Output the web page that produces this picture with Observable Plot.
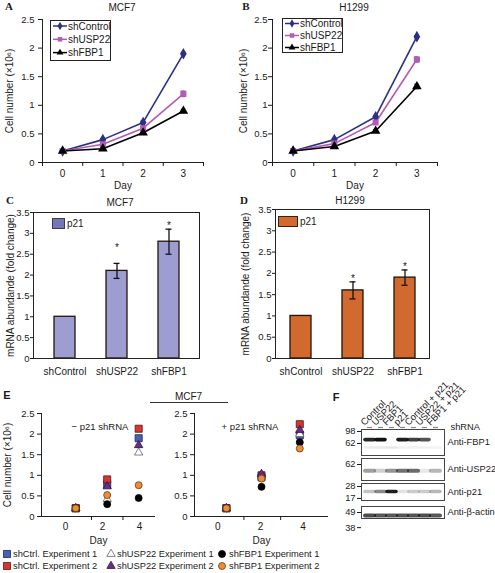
<!DOCTYPE html>
<html><head><meta charset="utf-8">
<script src="https://cdn.jsdelivr.net/npm/d3@7"></script>
<script src="https://cdn.jsdelivr.net/npm/@observablehq/plot@0.6"></script>
<style>
html,body{margin:0;padding:0;background:#fff}
#fig{position:relative;width:495px;height:573px;overflow:hidden;background:#fff}
</style></head>
<body><div id="fig"></div>
<script>
// ---------------- DATA ----------------
// Panels A & B: cell growth (x10^6 cells)
const days = [0, 1, 2, 3];
const dayBoundaries = [-0.5, 0.5, 1.5, 2.5, 3.5];
const shSeries = ["shControl", "shUSP22", "shFBP1"];
const growthTicks = [0, 0.5, 1, 1.5, 2, 2.5];

const mcf7Control = [0.20, 0.40, 0.70, 1.90];
const mcf7USP22   = [0.20, 0.32, 0.60, 1.20];
const mcf7FBP1    = [0.20, 0.24, 0.52, 0.90];
const mcf7ControlErr = [0.01, 0.02, 0.03, 0.03];
const mcf7USP22Err   = [0.02, 0.03, 0.03, 0.05];
const mcf7FBP1Err    = [0.01, 0.02, 0.02, 0.03];

const h1299Control = [0.20, 0.40, 0.80, 2.20];
const h1299USP22   = [0.20, 0.33, 0.70, 1.80];
const h1299FBP1    = [0.20, 0.28, 0.55, 1.33];
const h1299ControlErr = [0.01, 0.02, 0.02, 0.02];
const h1299USP22Err   = [0.02, 0.02, 0.03, 0.05];
const h1299FBP1Err    = [0.01, 0.02, 0.02, 0.04];

// Panels C & D: p21 mRNA fold change
const qpcrGroups = ["shControl", "shUSP22", "shFBP1"];
const foldTicks = [0, 0.5, 1, 1.5, 2, 2.5, 3, 3.5];
const mcf7P21    = [1.0, 2.1, 2.8];
const mcf7P21Err = [0, 0.18, 0.30];
const h1299P21    = [1.0, 1.6, 1.9];
const h1299P21Err = [0, 0.20, 0.18];

// Panel E: MCF7 growth -/+ p21 shRNA
const eSeries = ["shCtrl. Experiment 1", "shCtrl. Experiment 2", "shUSP22 Experiment 1",
                 "shUSP22 Experiment 2", "shFBP1 Experiment 1", "shFBP1 Experiment 2"];
const eDayTicks = [0, 2, 4];
const eMinusDays = [0.55, 2.25, 3.95];
const ePlusDays  = [0.40, 2.05, 3.85];
const eMinusCtrl1 = [0.20, 0.78, 1.90];
const eMinusCtrl2 = [0.20, 0.90, 2.13];
const eMinusUSP1  = [0.20, 0.42, 1.55];
const eMinusUSP2  = [0.20, 0.73, 1.73];
const eMinusFBP1  = [0.20, 0.30, 0.45];
const eMinusFBP2  = [0.20, 0.52, 0.76];
const ePlusCtrl1 = [0.20, 0.95, 1.97];
const ePlusCtrl2 = [0.20, 1.00, 2.24];
const ePlusUSP1  = [0.20, 0.97, 2.00];
const ePlusUSP2  = [0.20, 1.03, 2.10];
const ePlusFBP1  = [0.20, 0.72, 1.80];
const ePlusFBP2  = [0.20, 0.92, 1.65];

// Panel F: western blot (band intensity 0..1 per lane, band MW in kDa)
const lanes = ["Control", "USP22", "FBP1", "p21", "Control + p21", "USP22 + p21", "FBP1 + p21"];
const fbp1Intensity   = [0.90, 1.00, 0.00, 0.95, 0.80, 0.72, 0.00];
const fbp1Faint       = [0.07, 0.08, 0.10, 0.06, 0.06, 0.06, 0.05];
const usp22Intensity  = [0.40, 0.20, 0.45, 0.60, 0.62, 0.10, 0.30];
const p21Intensity    = [0.25, 0.50, 0.95, 0.12, 0.22, 0.22, 0.30];
const actinIntensity  = [0.75, 0.70, 0.70, 0.72, 0.72, 0.74, 0.70];
const fbp1MW = 72, fbp1FaintMW = 53, usp22MW = 49, p21MW = 22.7, actinMW = 46.6;
const fbp1Markers = [98, 62], usp22Markers = [62], p21Markers = [28, 17], actinMarkers = [49, 38];

// ---------------- STYLE ----------------
const FONT = '"Liberation Sans", Arial, Helvetica, sans-serif';
const SERIF = '"Liberation Serif", "Times New Roman", serif';
const growthColors = ["#2c2f86", "#b25db3", "#000000"];
const growthSymbols = ["diamond", "square", "triangle"];
const eSymbols = ["square", "square", "triangle", "triangle", "circle", "circle"];
const eRadii   = [4, 4, 3.1, 3.1, 3.5, 3.5];
const eFills   = ["#4a60b4", "#d8352c", "#ffffff", "#6a2d8c", "#000000", "#ec8d38"];
const eStrokes = ["#1e2450", "#4a1a14", "#666666", "#2e1540", "#000000", "#6a3a12"];
const mcf7StarDy  = [0, -16, -3];
const h1299StarDy = [0, -3, -3];
const cellLabel = "Cell number (×10⁶)";
const mrnaLabel = "mRNA abundande (fold change)";

const fig = document.getElementById("fig");
const fmt = d => String(d);
const baseStyle = {fontFamily: FONT, fontSize: "10px", background: "transparent", overflow: "visible", color: "#1a1a1a"};

function place(node, left, top) {
  node.style.position = "absolute";
  node.style.left = left + "px";
  node.style.top = top + "px";
  fig.appendChild(node);
  return node;
}
// rotated y-axis title drawn inside a plot, offset from the frame's left edge
const yTitle = (text, dx) => Plot.text([text], {frameAnchor: "left", rotate: -90, dx, textAnchor: "middle", fontSize: 10});

// ---------------- A & B ----------------
function growthTable(vals, errs) {
  return shSeries.flatMap((s, i) => days.map((d, j) => ({series: s, day: d, value: vals[i][j], err: errs[i][j]})));
}
function growthChart(table, o) {
  return Plot.plot({
    width: o.width, height: 195, marginLeft: o.mL, marginRight: o.mR, marginTop: 19, marginBottom: 33,
    style: baseStyle,
    x: {domain: [-0.5, 3.5]},
    y: {domain: [0, 2.5]},
    color: {domain: shSeries, range: growthColors},
    symbol: {domain: shSeries, range: growthSymbols},
    marks: [
      Plot.ruleX([-0.5], {stroke: "#222"}),
      Plot.ruleY([0], {stroke: "#222"}),
      Plot.axisY({ticks: growthTicks, tickSize: 4, tickPadding: o.tickPad, tickFormat: fmt, label: null, fontSize: 9.5}),
      Plot.axisX({ticks: dayBoundaries, tickSize: 4, tickFormat: () => "", label: null}),
      Plot.axisX({ticks: days, tickSize: 0, tickPadding: 7, tickFormat: fmt,
        label: "Day", labelAnchor: "center", labelArrow: "none", labelOffset: 26}),
      yTitle(cellLabel, o.titleDx),
      Plot.ruleX(table, {x: "day", y1: d => d.value - d.err, y2: d => d.value + d.err, stroke: "series"}),
      Plot.ruleY(table, {y: d => d.value + d.err, x1: d => d.day - 0.05, x2: d => d.day + 0.05, stroke: "series"}),
      Plot.ruleY(table, {y: d => d.value - d.err, x1: d => d.day - 0.05, x2: d => d.day + 0.05, stroke: "series"}),
      Plot.line(table, {x: "day", y: "value", stroke: "series", strokeWidth: 1.6}),
      Plot.dot(table, {x: "day", y: "value", symbol: "series", fill: "series", stroke: "series", r: 2.6})
    ]
  });
}
function growthLegend(left, top, w, h, y0, gap) {
  const svg = d3.create("svg").attr("width", w).attr("height", h).style("overflow", "visible");
  svg.append("rect").attr("x", 0.5).attr("y", 0.5).attr("width", w - 1).attr("height", h - 1)
    .attr("fill", "#fff").attr("stroke", "#222");
  const types = [d3.symbolDiamond, d3.symbolSquare, d3.symbolTriangle];
  shSeries.forEach((s, i) => {
    const y = y0 + i * gap;
    svg.append("line").attr("x1", 3).attr("x2", 17).attr("y1", y).attr("y2", y)
      .attr("stroke", growthColors[i]).attr("stroke-width", 1.5);
    svg.append("path").attr("d", d3.symbol(types[i], Math.PI * 6.5)()).attr("transform", `translate(10,${y})`)
      .attr("fill", growthColors[i]);
    svg.append("text").attr("x", 18).attr("y", y).attr("dy", "0.35em").text(s)
      .style("font", `10px ${FONT}`).attr("fill", "#1a1a1a");
  });
  place(svg.node(), left, top);
}

place(growthChart(growthTable([mcf7Control, mcf7USP22, mcf7FBP1], [mcf7ControlErr, mcf7USP22Err, mcf7FBP1Err]),
  {width: 240, mL: 42, mR: 37, tickPad: 4, titleDx: -33}), 0, 0);
place(growthChart(growthTable([h1299Control, h1299USP22, h1299FBP1], [h1299ControlErr, h1299USP22Err, h1299FBP1Err]),
  {width: 260, mL: 37, mR: 58, tickPad: 1, titleDx: -29}), 235, 0);
growthLegend(50, 20, 61, 41, 6, 13.3);
growthLegend(282, 18, 61, 35, 5.5, 12);

// ---------------- C & D ----------------
function qpcrChart(vals, errs, starDy, o) {
  const table = qpcrGroups.map((g, i) => ({group: g, value: vals[i], err: errs[i], starDy: starDy[i]}));
  const withErr = table.filter(d => d.err > 0);
  return Plot.plot({
    width: o.width, height: 190, marginLeft: o.mL, marginRight: o.mR, marginTop: o.mT, marginBottom: 27,
    style: baseStyle,
    x: {domain: qpcrGroups, paddingInner: 0.6, paddingOuter: o.po},
    y: {domain: [0, 3.5]},
    marks: [
      Plot.barY(table, {x: "group", y: "value", fill: o.fill, stroke: "#24140c", strokeWidth: 1.3}),
      Plot.ruleX(withErr, {x: "group", y1: d => d.value - d.err, y2: d => d.value + d.err, strokeWidth: 1.3, stroke: "#111"}),
      Plot.tickY(withErr, {x: "group", y: d => d.value + d.err, insetLeft: 7.5, insetRight: 7.5, strokeWidth: 1.3, stroke: "#111"}),
      Plot.tickY(withErr, {x: "group", y: d => d.value - d.err, insetLeft: 7.5, insetRight: 7.5, strokeWidth: 1.3, stroke: "#111"}),
      ...withErr.map(d => Plot.text([d], {x: "group", y: e => e.value + e.err, text: () => "*", dy: d.starDy, fontSize: 10})),
      Plot.frame({stroke: "#222"}),
      Plot.axisY({ticks: foldTicks, tickSize: 3, tickPadding: 1, tickFormat: fmt, label: null, fontSize: 9.5}),
      Plot.axisX({tickSize: 0, tickPadding: 9, label: null}),
      yTitle(mrnaLabel, o.titleDx)
    ]
  });
}
place(qpcrChart(mcf7P21, mcf7P21Err, mcf7StarDy, {width: 250, mL: 33, mR: 51, mT: 17, po: 0.38, fill: "#9d9dd2", titleDx: -23}), 0, 195);
place(qpcrChart(h1299P21, h1299P21Err, h1299StarDy, {width: 255, mL: 35, mR: 66, mT: 14, po: 0.28, fill: "#d2692e", titleDx: -30}), 240, 195);

// legend swatches C & D
(function () {
  const c = document.createElement("div");
  Object.assign(c.style, {width: "11px", height: "9px", background: "#7676b0", border: "1px solid #3a3a60"});
  place(c, 52, 218);
  const d = document.createElement("div");
  Object.assign(d.style, {width: "18px", height: "9px", background: "#d2692e", border: "1px solid #3a2010"});
  place(d, 278, 216);
})();

// ---------------- E ----------------
function eChart(dayX, seriesVals, o) {
  const mk = vals => dayX.map((d, j) => ({day: d, value: vals[j]}));
  return Plot.plot({
    width: o.width, height: 150, marginLeft: o.mL, marginRight: o.mR, marginTop: 18, marginBottom: 29,
    style: baseStyle,
    x: {domain: o.xDomain},
    y: {domain: [0, 2.5]},
    marks: [
      Plot.ruleX([o.xDomain[0]], {stroke: "#222"}),
      Plot.ruleY([0], {stroke: "#222"}),
      Plot.axisY({ticks: growthTicks, tickSize: 4, tickPadding: 3, tickFormat: fmt, label: null, fontSize: 9.5}),
      Plot.axisX({ticks: d3.pairs(dayX, (a, b) => (a + b) / 2), tickSize: 4, tickFormat: () => "", label: null}),
      Plot.axisX({ticks: eDayTicks, tickSize: 0, tickPadding: 6, tickFormat: fmt,
        label: "Day", labelAnchor: "center", labelArrow: "none", labelOffset: 27}),
      ...(o.title ? [yTitle(cellLabel, o.titleDx)] : []),
      ...eSeries.map((s, i) => Plot.dot(mk(seriesVals[i]), {x: "day", y: "value", symbol: eSymbols[i], r: eRadii[i],
        fill: eFills[i], stroke: eStrokes[i], strokeWidth: 0.8}))
    ]
  });
}
place(eChart(eMinusDays, [eMinusCtrl1, eMinusCtrl2, eMinusUSP1, eMinusUSP2, eMinusFBP1, eMinusFBP2],
  {width: 160, mL: 41, mR: 5, xDomain: [-1.3, 4.86], title: true, titleDx: -34}), 0, 395);
place(eChart(ePlusDays, [ePlusCtrl1, ePlusCtrl2, ePlusUSP1, ePlusUSP2, ePlusFBP1, ePlusFBP2],
  {width: 175, mL: 34, mR: 7, xDomain: [-1.1, 5.2], title: false}), 160, 395);
// E legend
(function () {
  const svg = d3.create("svg").attr("width", 495).attr("height", 26).style("overflow", "visible");
  const typeOf = {square: d3.symbolSquare, triangle: d3.symbolTriangle, circle: d3.symbolCircle};
  const colX = [7, 111, 222], textX = [13, 117, 229], rowY = [6, 18];
  eSeries.forEach((s, i) => {
    const col = Math.floor(i / 2), row = i % 2;
    svg.append("path").attr("d", d3.symbol(typeOf[eSymbols[i]], Math.PI * eRadii[i] * eRadii[i])())
      .attr("transform", `translate(${colX[col]},${rowY[row]})`)
      .attr("fill", eFills[i]).attr("stroke", eStrokes[i]).attr("stroke-width", 0.8);
    svg.append("text").attr("x", textX[col]).attr("y", rowY[row]).attr("dy", "0.35em").text(s)
      .style("font", `9.3px ${FONT}`).attr("fill", "#1a1a1a");
  });
  place(svg.node(), 0, 548);
})();

// ---------------- F ----------------
function blotStrip(o) {
  return Plot.plot({
    width: 165, height: o.height, marginLeft: 31, marginRight: 51, marginTop: o.mT, marginBottom: o.mB,
    style: {...baseStyle, fontSize: "9.3px"},
    x: {type: "band", domain: lanes, paddingInner: 0.18, paddingOuter: 0.08, axis: null},
    y: {type: "log", domain: o.yDomain},
    opacity: {domain: [0, 1], range: [0, 1]},
    marks: [
      ...o.bands.map(b => Plot.tickY(lanes.map((l, i) => ({lane: l, v: b.values[i]})),
        {x: "lane", y: () => b.mw, stroke: "#111", strokeOpacity: "v", strokeWidth: b.thick,
         strokeLinecap: "round", imageFilter: "blur(0.5px)"})),
      Plot.frame({stroke: "#444"}),
      Plot.axisY({ticks: o.markers, tickSize: 4, tickPadding: 2, tickFormat: fmt, label: null}),
      Plot.text([o.label], {frameAnchor: "right", textAnchor: "start", dx: 3}),
      ...(o.extra || [])
    ]
  });
}
const strip1 = blotStrip({height: 34, mT: 4, mB: 4, yDomain: [39.2, 105.8], markers: fbp1Markers, label: "Anti-FBP1",
  bands: [{mw: fbp1MW, values: fbp1Intensity, thick: 3.6}, {mw: fbp1FaintMW, values: fbp1Faint, thick: 2.5}],
  extra: [
    Plot.text(["shRNA"], {frameAnchor: "top-right", textAnchor: "start", dx: 6, dy: -6}),
    Plot.tickY(lanes, {x: d => d, y: () => 105.8, dy: -2, stroke: "#888", strokeWidth: 1.2, insetLeft: 2, insetRight: 2})
  ]});
place(strip1, 330, 425);
place(blotStrip({height: 30, mT: 4, mB: 4, yDomain: [33.8, 77.9], markers: usp22Markers, label: "Anti-USP22",
  bands: [{mw: usp22MW, values: usp22Intensity, thick: 4}]}), 330, 454);
place(blotStrip({height: 25, mT: 4, mB: 4, yDomain: [15.6, 31.7], markers: p21Markers, label: "Anti-p21",
  bands: [{mw: p21MW, values: p21Intensity, thick: 3.5}]}), 330, 479);
place(blotStrip({height: 30, mT: 4, mB: 14, yDomain: [44.3, 54.2], markers: actinMarkers, label: "Anti-β-actin",
  bands: [{mw: actinMW, values: actinIntensity, thick: 4}]}), 330, 502);

// ---------------- text overlay (titles, letters, notes) ----------------
const ov = d3.create("svg").attr("width", 495).attr("height", 573)
  .style("overflow", "visible").style("pointer-events", "none");
function t(text, x, y, o = {}) {
  return ov.append("text")
    .attr("transform", `translate(${x},${y}) rotate(${o.rotate || 0})`)
    .attr("text-anchor", o.anchor || "middle")
    .attr("dy", "0.35em")
    .attr("fill", "#1a1a1a")
    .style("font", o.font || `10px ${FONT}`)
    .text(text);
}
t("MCF7", 122, 7);
t("H1299", 354, 7);
t("MCF7", 120, 202);
t("H1299", 350, 200);
t("MCF7", 188.5, 396);
ov.append("line").attr("x1", 150).attr("x2", 228).attr("y1", 402.5).attr("y2", 402.5).attr("stroke", "#333");
t("p21", 67, 223, {anchor: "start"});
t("p21", 300, 221, {anchor: "start"});
t("− p21 shRNA", 100, 427, {font: `9.5px ${FONT}`});
t("+ p21 shRNA", 250, 427, {font: `9.5px ${FONT}`});
// F lane labels, positioned with the blot's own band scale
(function () {
  const sx = strip1.scale("x");
  lanes.forEach(l => {
    const cx = 330 + sx.apply(l) + sx.bandwidth / 2;
    ov.append("text").attr("transform", `translate(${cx - 5},426) rotate(-45)`)
      .attr("text-anchor", "start").text(l).style("font", `9.5px ${FONT}`).attr("fill", "#1a1a1a");
  });
})();
const letterSerif = `bold 11px ${SERIF}`;
const letterSans = `bold 11px ${FONT}`;
t("A", 9, 6, {font: letterSerif});
t("B", 246, 6, {font: letterSerif});
t("C", 10, 200, {font: letterSerif});
t("D", 244, 200, {font: letterSerif});
t("E", 7, 395, {font: letterSans});
t("F", 336, 397, {font: letterSans});
place(ov.node(), 0, 0);
</script></body></html>
